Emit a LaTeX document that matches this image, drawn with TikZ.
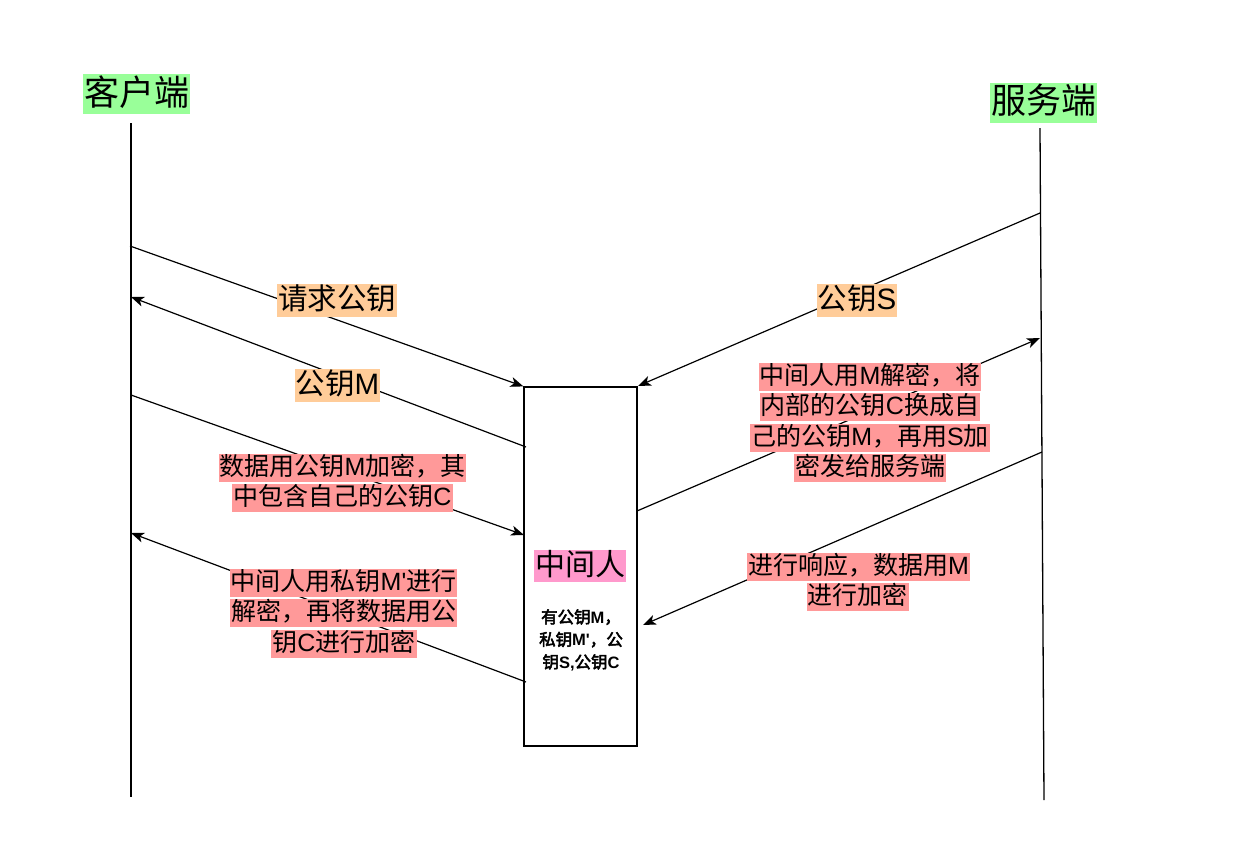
\documentclass[tikz,border=0pt]{standalone}
\usepackage{fontspec}
\setmainfont{Noto Sans CJK SC}
\newfontfamily\latinf{Liberation Sans}
\newfontfamily\boldcjk{Noto Sans CJK SC}[FakeBold=3]
\newfontfamily\boldlatin{Liberation Sans Bold}
\newcommand\la[1]{{\latinf #1}}
\newcommand\bla[1]{{\boldlatin #1}}
\usetikzlibrary{arrows.meta}
\definecolor{greenbg}{HTML}{99FF99}
\definecolor{orangebg}{HTML}{FFCC99}
\definecolor{redbg}{HTML}{FF9999}
\definecolor{pinkbg}{HTML}{FF99CC}
\begin{document}
\begin{tikzpicture}[x=1pt,y=-1pt,
  lane/.style={line width=1.3pt},
  msg/.style={line width=1.2pt,-{Stealth[length=13pt,width=10pt,inset=3.5pt]}},
  actor/.style={fill=greenbg,inner xsep=1pt,inner ysep=1pt,text height=30pt,text depth=8pt,font=\fontsize{35}{40}\selectfont},
  keylbl/.style={fill=orangebg,inner xsep=1pt,inner ysep=1.5pt,text height=24pt,text depth=6pt,font=\fontsize{29.5}{33}\selectfont},
  notelbl/.style={fill=redbg,inner xsep=1pt,inner ysep=1pt,text height=20.5pt,text depth=5.5pt,font=\fontsize{25}{29}\selectfont},
  boxstyle/.style={draw,line width=1.2pt,minimum width=113pt,minimum height=359pt,inner sep=0pt},
]
\useasboundingbox (0,0) rectangle (1254,868);

% lifelines
\coordinate (ctop) at (131,123);
\coordinate (cbot) at (131,797);
\coordinate (stop) at (1040,128);
\coordinate (sbot) at (1044,800);
\draw[lane] (ctop) -- (cbot);
\draw[lane] (stop) -- (sbot);

% middle man box
\node[boxstyle] (mitm) at (580.5,566.5) {};

% endpoints
\coordinate (c1) at (130,246);
\coordinate (c2) at (131,297);
\coordinate (c3) at (131,395);
\coordinate (c4) at (131,533);
\coordinate (m2) at (526,447);
\coordinate (m3) at (524,535);
\coordinate (m4) at (526,682);
\coordinate (m6) at (637,511);
\coordinate (m7) at (643,625);
\coordinate (s5) at (1040,213);
\coordinate (s6) at (1040,338);
\coordinate (s7) at (1042,452);
\coordinate (m5) at (638,386);

% messages
\draw[msg] (c1) -- (mitm.north west);
\draw[msg] (m2) -- (c2);
\draw[msg] (c3) -- (m3);
\draw[msg] (m4) -- (c4);
\draw[msg] (s5) -- (m5);
\draw[msg] (m6) -- (s6);
\draw[msg] (s7) -- (m7);

% actor labels
\node[actor] (client) at (136.5,94) {客户端};
\node[actor] (server) at (1043.5,102.5) {服务端};

% key labels
\node[keylbl] (l1) at (337,300.5) {请求公钥};
\node[keylbl] (l2) at (337.5,385.5) {公钥\la{M}};
\node[keylbl] (l5) at (857,300.5) {公钥\la{S}};

% note labels
\node[notelbl] (n3a) at (342.5,467.5) {数据用公钥\la{M}加密，其};
\node[notelbl] (n3b) at (342.5,497.5) {中包含自己的公钥\la{C}};

\node[notelbl] (n4a) at (343.5,583) {中间人用私钥\la{M'}进行};
\node[notelbl] (n4b) at (343.5,613) {解密，再将数据用公};
\node[notelbl] (n4c) at (344,643.5) {钥\la{C}进行加密};

\node[notelbl] (n6a) at (870,377) {中间人用\la{M}解密，将};
\node[notelbl] (n6b) at (870,407) {内部的公钥\la{C}换成自};
\node[notelbl] (n6c) at (870,437.5) {己的公钥\la{M}，再用\la{S}加};
\node[notelbl] (n6d) at (870,468) {密发给服务端};

\node[notelbl] (n7a) at (858.5,566.5) {进行响应，数据用\la{M}};
\node[notelbl] (n7b) at (857.5,596.5) {进行加密};

% inside box
\node[fill=pinkbg,inner xsep=1pt,inner ysep=1pt,text height=24pt,text depth=6pt,font=\fontsize{30}{34}\selectfont] (mname) at (580,566) {中间人};
\node[align=center,inner sep=0pt,font=\fontsize{16.5}{22.5}\boldcjk] (mkeys) at (581,640) {有公钥\bla{M}，\\私钥\bla{M'}，公\\钥\bla{S,}公钥\bla{C}};
\end{tikzpicture}
\end{document}
